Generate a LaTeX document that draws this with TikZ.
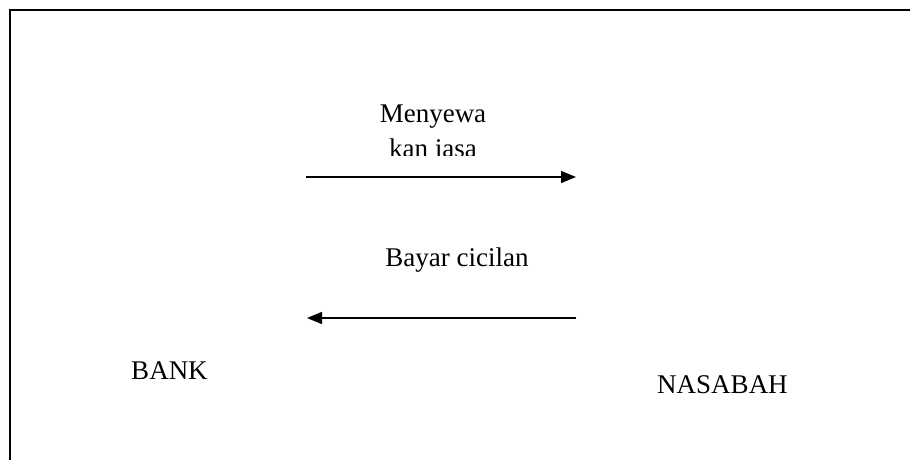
\documentclass[tikz,border=0pt]{standalone}
\usepackage{fontspec}
\setmainfont{Liberation Serif}
\usetikzlibrary{arrows.meta}
\begin{document}
\begin{tikzpicture}[x=1pt,y=-1pt,
  label/.style={inner sep=0pt,anchor=base,font=\fontsize{27}{31}\selectfont},
  flow/.style={line width=1.4pt,-{Triangle[length=15pt,width=12pt]}}]
\useasboundingbox (0,0) rectangle (910,460);
\begin{scope}
  \clip (0,0) rectangle (910,460);
  % outer frame, running off the right and bottom edges
  \draw[line width=2.4pt] (10,480) -- (10,10) -- (930,10);
\end{scope}
% labels
\node[label] (menyewa) at (433,122) {Menyewa};
\begin{scope}
  % second line of the label is cut off by its text box
  \clip (300,130) rectangle (560,155);
  \node[label] (kanjasa) at (433,157.5) {kan jasa};
\end{scope}
\node[label] (bayar) at (457,266) {Bayar cicilan};
\node[label] (bank) at (169.5,379) {BANK};
\node[label] (nasabah) at (722.5,393) {NASABAH};
% arrow end points
\coordinate (a1s) at (306,177);
\coordinate (a1e) at (576,177);
\coordinate (a2s) at (576,318);
\coordinate (a2e) at (307,318);
\draw[flow] (a1s) -- (a1e);
\draw[flow] (a2s) -- (a2e);
\end{tikzpicture}
\end{document}
